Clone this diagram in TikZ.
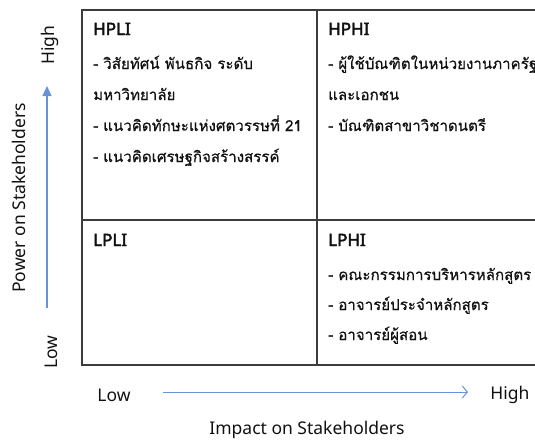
\documentclass[tikz,border=0pt]{standalone}
\usepackage{fontspec}
\setmainfont{Noto Sans}[AutoFakeBold=2.5]
\newfontfamily\thaifont[Script=Thai,FakeBold=0.6]{Loma}
\usetikzlibrary{arrows.meta}
\definecolor{gridc}{HTML}{3C3C3C}
\definecolor{arrc}{HTML}{6A92D8}
\definecolor{txt}{HTML}{111111}
\begin{document}
\begin{tikzpicture}[x=1pt,y=-1pt,
  head/.style={font=\fontsize{17}{20}\selectfont\bfseries, anchor=base west, inner sep=0, text=txt},
  item/.style={font=\thaifont\fontsize{15.1}{19}\selectfont, anchor=base west, inner sep=0, text=txt},
  lab/.style={font=\fontsize{17.5}{20}\selectfont, inner sep=0, text=txt},
  gridline/.style={draw=gridc, line width=1.3pt},
  axis/.style={draw=arrc, line width=1.2pt}]
\useasboundingbox (0,0) rectangle (535,442);
% grid
\draw[gridline] (540,10) -- (82,10) -- (82,365) -- (540,365);
\draw[gridline] (82,220) -- (540,220);
\draw[gridline] (317,10) -- (317,365);
% HPLI
\node[head] (hpli) at (93,35) {HPLI};
\node[item] (hpli1) at (93,69) {- วิสัยทัศน์ พันธกิจ ระดับ};
\node[item] (hpli2) at (93,100) {มหาวิทยาลัย};
\node[item] (hpli3) at (93,131) {- แนวคิดทักษะแห่งศตวรรษที่ 21};
\node[item] (hpli4) at (93,162) {- แนวคิดเศรษฐกิจสร้างสรรค์};
% HPHI
\node[head] (hphi) at (328,35) {HPHI};
\node[item] (hphi1) at (328,69) {- ผู้ใช้บัณฑิตในหน่วยงานภาครัฐ};
\node[item] (hphi2) at (328,100) {และเอกชน};
\node[item] (hphi3) at (328,131) {- บัณฑิตสาขาวิชาดนตรี};
% LPLI
\node[head] (lpli) at (93,246) {LPLI};
% LPHI
\node[head] (lphi) at (328,246) {LPHI};
\node[item] (lphi1) at (328,280) {- คณะกรรมการบริหารหลักสูตร};
\node[item] (lphi2) at (328,310) {- อาจารย์ประจำหลักสูตร};
\node[item] (lphi3) at (328,340) {- อาจารย์ผู้สอน};
% vertical axis
\coordinate (vs) at (47,308);
\coordinate (ve) at (47,86);
\draw[axis, -{Triangle[length=10pt,width=9pt]}] (vs) -- (ve);
\node[lab, rotate=90] (vhigh) at (50,45) {High};
\node[lab, rotate=90] (vlow) at (51,352) {Low};
\node[lab, rotate=90] (vtitle) at (19,198) {Power on Stakeholders};
% horizontal axis
\coordinate (hs) at (163,392);
\coordinate (he) at (468,392);
\draw[axis, line width=1pt, -{Straight Barb[length=5pt,width=12pt]}] (hs) -- (he);
\node[lab] (hlow) at (114,395) {Low};
\node[lab] (hhigh) at (510,395) {High};
\node[lab] (htitle) at (307,430) {Impact on Stakeholders};
\end{tikzpicture}
\end{document}
